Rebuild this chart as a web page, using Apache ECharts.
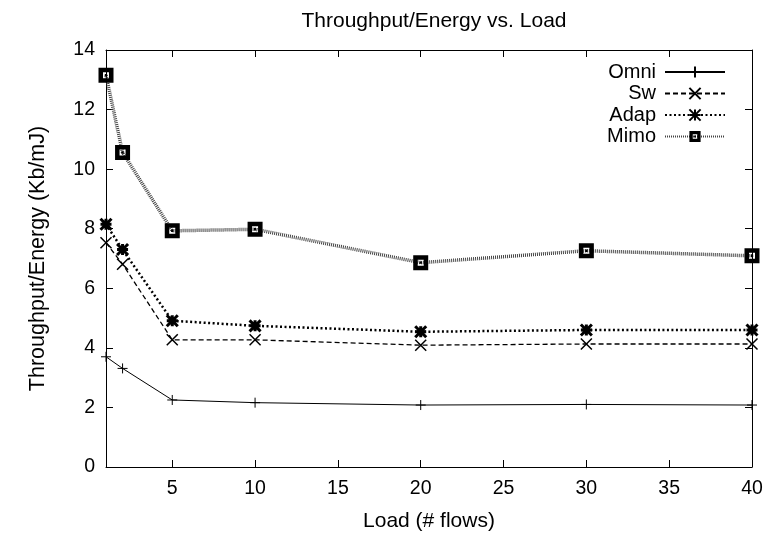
<!DOCTYPE html>
<html>
<head>
<meta charset="utf-8">
<script src="https://cdn.jsdelivr.net/npm/echarts@6/dist/echarts.min.js"></script>
<style>
  html, body { margin: 0; padding: 0; background: #fff; }
  #chart { width: 771px; height: 534px; }
</style>
</head>
<body>
<div id="chart"></div>
<script>
// Load values (number of flows)
const loads = [1, 2, 5, 10, 20, 30, 40];
// Throughput/Energy (Kb/mJ) per scheme
const omni = [3.70, 3.31, 2.25, 2.16, 2.08, 2.10, 2.08];
const sw   = [7.53, 6.81, 4.27, 4.27, 4.09, 4.13, 4.13];
const adap = [8.15, 7.30, 4.91, 4.74, 4.54, 4.60, 4.60];
const mimo = [13.15, 10.56, 7.93, 7.98, 6.86, 7.26, 7.09];
const xTicks = [5, 10, 15, 20, 25, 30, 35, 40];
const yTicks = [0, 2, 4, 6, 8, 10, 12, 14];

const FONT = 'Liberation Sans, Arial, sans-serif';

const pairs = ys => loads.map((x, i) => [x, ys[i]]);

const SYM_PLUS  = 'path://M5,0V10M0,5H10';
const SYM_CROSS = 'path://M0,0L10,10M10,0L0,10';
const SYM_STAR  = 'path://M0,0L10,10M10,0L0,10M5,0V10M0,5H10';
const SYM_BOX   = 'path://M0,0H10V10H0Z M3,3V7H7V3Z M4.2,4.2H5.8V5.8H4.2Z';

function mkSeries(name, ys, sym, size, symBorder, lineW, lineType, lineColor) {
  return {
    name, type: 'line', data: pairs(ys),
    symbol: sym, symbolSize: size, showAllSymbol: true,
    itemStyle: { color: '#000', borderColor: '#000', borderWidth: symBorder },
    lineStyle: { color: lineColor, width: lineW, type: lineType },
    emphasis: { disabled: true },
    animation: false,
    z: 2
  };
}

const chart = echarts.init(document.getElementById('chart'), null, { renderer: 'canvas' });

const axisCommonX = {
  type: 'value', min: 1, max: 40,
  axisLine: { show: true, onZero: false, lineStyle: { color: '#000', width: 1 } },
  axisTick: { show: true, inside: true, length: 7, customValues: xTicks, lineStyle: { color: '#000' } },
  splitLine: { show: false }
};
const axisCommonY = {
  type: 'value', min: 0, max: 14, interval: 2,
  axisLine: { show: true, onZero: false, lineStyle: { color: '#000', width: 1 } },
  axisTick: { show: true, inside: true, length: 7, lineStyle: { color: '#000' } },
  splitLine: { show: false }
};

chart.setOption({
  backgroundColor: '#fff',
  animation: false,
  title: {
    text: 'Throughput/Energy vs. Load',
    left: 429, top: 6, textAlign: 'center',
    textStyle: { fontFamily: FONT, fontSize: 21, fontWeight: 'normal', color: '#000' }
  },
  grid: { left: 106, right: 19, top: 50, bottom: 67, containLabel: false, outerBoundsMode: 'none' },
  legend: {
    orient: 'vertical', right: 40, top: 57, align: 'right',
    itemWidth: 60, itemHeight: 14, itemGap: 1.5,
    selectedMode: false,
    textStyle: { fontFamily: FONT, fontSize: 20, color: '#000', padding: [0, 4, 0, 0] },
    data: ['Omni', 'Sw', 'Adap', 'Mimo']
  },
  xAxis: [
    Object.assign({}, axisCommonX, {
      position: 'bottom',
      name: 'Load (# flows)', nameLocation: 'middle', nameGap: 44,
      nameTextStyle: { fontFamily: FONT, fontSize: 21, color: '#000' },
      axisLabel: { customValues: xTicks, margin: 12, fontFamily: FONT, fontSize: 19.5, color: '#000' }
    }),
    Object.assign({}, axisCommonX, {
      position: 'top',
      axisLabel: { show: false }
    })
  ],
  yAxis: [
    Object.assign({}, axisCommonY, {
      position: 'left',
      name: 'Throughput/Energy (Kb/mJ)', nameLocation: 'middle', nameGap: 57, nameRotate: 90,
      nameTextStyle: { fontFamily: FONT, fontSize: 21.5, color: '#000' },
      axisLabel: { margin: 11, fontFamily: FONT, fontSize: 19.5, color: '#000' }
    }),
    Object.assign({}, axisCommonY, {
      position: 'right',
      axisLabel: { show: false }
    })
  ],
  series: [
    mkSeries('Omni', omni, SYM_PLUS, 10, 1, 1, 'solid', '#000'),
    mkSeries('Sw', sw, SYM_CROSS, 11, 1.5, 1.3, [5, 3], '#000'),
    mkSeries('Adap', adap, SYM_STAR, 11, 3, 2.5, [2, 2.5], '#000'),
    mkSeries('Mimo', mimo, SYM_BOX, 15, 0, 3.5, [1, 1], '#444')
  ]
});
</script>
</body>
</html>
